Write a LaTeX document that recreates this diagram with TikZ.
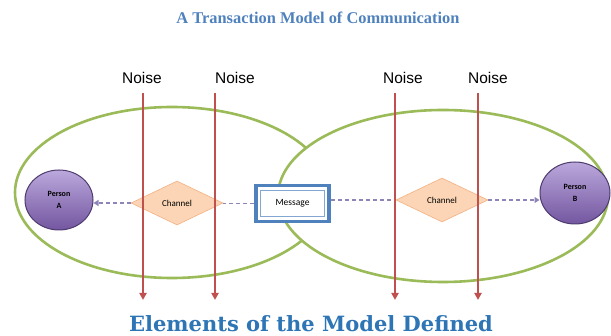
\documentclass[tikz,border=0pt]{standalone}
\usepackage{fontspec}
\usepackage{xcolor}
\usepackage{tikz}
\usetikzlibrary{shapes.geometric,arrows.meta}
\setmainfont{Liberation Serif}
\newfontfamily\noisefont{Liberation Sans}
\newfontfamily\boxfont{Carlito}
\newfontfamily\footfont{DejaVu Serif}
\definecolor{ringgreen}{HTML}{9BBB59}
\definecolor{noisered}{HTML}{C0504D}
\definecolor{titleblue}{HTML}{4F81BD}
\definecolor{footblue}{HTML}{2E75B6}
\definecolor{personlight}{HTML}{BBA8DC}
\definecolor{personfill}{HTML}{7356A0}
\definecolor{persondark}{HTML}{4E3B6E}
\definecolor{chanfill}{HTML}{FBD5B5}
\definecolor{chanedge}{HTML}{F4B183}
\definecolor{linkpurple}{HTML}{8F84B8}

\begin{document}
\begin{tikzpicture}[x=1pt,y=-1pt,
        ring/.style={draw=ringgreen,line width=2.6pt},
        noisearrow/.style={draw=noisered,line width=2.4pt,-{Triangle[width=7pt,length=7pt]}},
        noiselabel/.style={font=\noisefont\fontsize{15.5}{17}\selectfont,inner sep=0pt},
        person/.style={ellipse,draw=persondark,line width=1pt,top color=personlight,
            bottom color=personfill,inner sep=0pt,align=center,
            font=\boxfont\bfseries\fontsize{8}{12}\selectfont},
        channel/.style={diamond,aspect=2,fill=chanfill,draw=chanedge,line width=0.6pt,
            minimum width=92pt,minimum height=44pt,inner sep=0pt,
            font=\boxfont\fontsize{9}{10}\selectfont},
        msgbox/.style={rectangle,draw=titleblue,line width=3.5pt,fill=white,
            minimum width=73pt,minimum height=36pt,inner sep=0pt,
            font=\boxfont\fontsize{9.5}{10}\selectfont},
        link/.style={draw=linkpurple,line width=1.2pt,dash pattern=on 4pt off 3pt},
        linkarrow/.style={link,-{Triangle[width=6pt,length=5pt]}}
    ]
    \useasboundingbox (0,0) rectangle (611,336);

    % 标题
    \node[font=\bfseries\fontsize{16.4}{19}\selectfont,text=titleblue] (title) at (318,18)
        {A Transaction Model of Communication};

    % 两个椭圆 (右边的盖住左边的)
    \draw[ring] (172,192.5) ellipse [x radius=157, y radius=85.5];
    \draw[ring,fill=white] (443,196) ellipse [x radius=165, y radius=86];

    % 人物与信道
    \node[person,minimum width=68pt,minimum height=60pt] (pA) at (59,200) {Person\\A};
    \node[person,minimum width=70pt,minimum height=62pt] (pB) at (575,193) {Person\\B};
    \node[channel] (chA) at (177,203) {Channel};
    \node[channel] (chB) at (442,200) {Channel};

    % 消息框 (双边框)
    \node[msgbox] (msg) at (292.5,203.5) {Message};
    \draw[draw=titleblue!70,line width=0.8pt]
    ([xshift=6.5pt,yshift=-6.5pt]msg.north west) rectangle
    ([xshift=-6.5pt,yshift=6.5pt]msg.south east);

    % 虚线连接
    \draw[linkarrow] (chA.west) -- (chA.west -| pA.east);
    \draw[link] (msg.west) -- (msg.west -| chA.east);
    \draw[link] (chB.west -| msg.east) -- (chB.west);
    \draw[linkarrow] (chB.east) -- (chB.east -| pB.west);

    % 噪声
    \node[noiselabel] (noise1) at (142,78) {Noise};
    \node[noiselabel] (noise2) at (235,78) {Noise};
    \node[noiselabel] (noise3) at (403,78) {Noise};
    \node[noiselabel] (noise4) at (488,78) {Noise};
    \coordinate (top1) at (143,93);  \coordinate (bot1) at (143,300);
    \coordinate (top2) at (215,93);  \coordinate (bot2) at (215,300);
    \coordinate (top3) at (395,93);  \coordinate (bot3) at (395,300);
    \coordinate (top4) at (478,93);  \coordinate (bot4) at (478,300);
    \draw[noisearrow] (top1) -- (bot1);
    \draw[noisearrow] (top2) -- (bot2);
    \draw[noisearrow] (top3) -- (bot3);
    \draw[noisearrow] (top4) -- (bot4);

    % 底部标题
    \node[font=\footfont\bfseries\fontsize{21}{23}\selectfont,text=footblue] (foot) at (311,324)
        {Elements of the Model Defined};
\end{tikzpicture}
\end{document}
